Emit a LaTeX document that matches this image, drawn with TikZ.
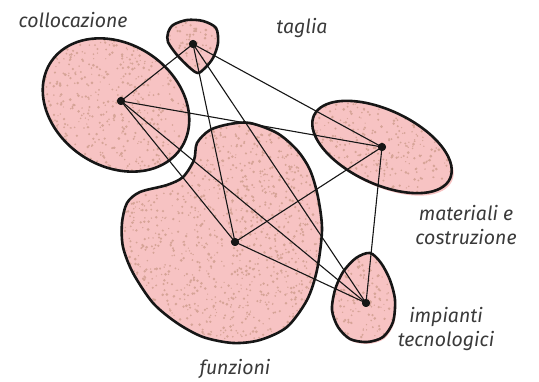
\documentclass[tikz,border=0pt]{standalone}
\usepackage{fontspec}
\setmainfont{Fira Sans}
\definecolor{blobfill}{HTML}{F7C3C3}
\definecolor{speck}{HTML}{D6A497}
\definecolor{txt}{HTML}{3A3A3A}
\definecolor{ink}{HTML}{161616}
\newcommand\specks[5]{\foreach \i in {1,...,#5}{%
  \pgfmathsetmacro\sx{#1+rnd*(#3-#1)}%
  \pgfmathsetmacro\sy{#2+rnd*(#4-#2)}%
  \pgfmathsetmacro\sr{0.6+0.9*rnd}%
  \fill[speck] (\sx,\sy) circle[radius=\sr];}}
% #1 path, #2-#5 bbox, #6 count
\newcommand\blob[6]{%
  \begin{scope}
    \clip #1;
    \fill[blobfill] (#2,#3) rectangle (#4,#5);
    \specks{#2}{#3}{#4}{#5}{#6}
  \end{scope}
  \draw[outline] #1;}
\begin{document}
\begin{tikzpicture}[x=1pt,y=-1pt,
  outline/.style={line width=2.6pt, draw=ink, line join=round},
  edge/.style={line width=1.1pt, draw=ink},
  hub/.style={circle, fill=ink, inner sep=0pt, minimum size=8pt},
  lab/.style={font=\itshape\fontsize{19.5}{24}\selectfont, text=txt, align=center}]
\useasboundingbox (0,0) rectangle (539,382);
\pgfmathsetseed{4242}
% collocazione
\blob{plot[domain=0:355, samples=72, smooth cycle] ({116+78*cos(\x)*0.834-61*sin(\x)*0.552}, {105+78*cos(\x)*0.552+61*sin(\x)*0.834})}{38}{36}{194}{176}{650}
% taglia
\blob{plot[smooth cycle] coordinates {(168,33) (173,25) (187,20) (203,21) (216,28) (218,43) (213,58) (205,68) (198,73) (190,68) (177,55) (168,42)}}{164}{16}{222}{77}{100}
% materiali
\fill[blobfill] plot[domain=0:355, samples=72, smooth cycle] ({384+75*cos(\x)*0.906-37*sin(\x)*0.423}, {149.5+75*cos(\x)*0.423+37*sin(\x)*0.906});
\blob{plot[domain=0:355, samples=72, smooth cycle] ({382+75*cos(\x)*0.906-37*sin(\x)*0.423}, {147+75*cos(\x)*0.423+37*sin(\x)*0.906})}{308}{96}{456}{198}{440}
% funzioni
\blob{plot[smooth cycle] coordinates {(250,123) (277,133) (297,150) (310,170) (318,197) (322,230) (317,270) (307,300) (287,327) (260,340) (233,343) (203,337) (177,323) (153,303) (133,273) (123,247) (122,223) (127,203) (140,192) (167,185) (183,177) (194,160) (197,143) (210,130) (230,124)}}{118}{119}{326}{347}{1400}
% impianti
\fill[blobfill] plot[smooth cycle] coordinates {(371,255) (382,265) (391,282) (396,302) (394,324) (384,339) (368,344) (351,341) (339,329) (333,312) (336,292) (344,274) (357,260)};
\blob{plot[smooth cycle] coordinates {(370,253) (381,263) (390,280) (395,300) (393,322) (383,337) (367,342) (350,339) (338,327) (332,310) (335,290) (343,272) (356,258)}}{328}{249}{399}{346}{200}
% hubs
\node[hub] (c) at (121,101) {};
\node[hub] (t) at (193,44) {};
\node[hub] (m) at (382,147) {};
\node[hub] (f) at (235,242) {};
\node[hub] (i) at (366,303) {};
\foreach \a/\b in {c/t,c/m,c/f,c/i,t/m,t/f,t/i,m/f,m/i,f/i}
  \draw[edge] (\a.center) -- (\b.center);
\node[hub] at (c) {};
\node[hub] at (t) {};
\node[hub] at (m) {};
\node[hub] at (f) {};
\node[hub] at (i) {};
% labels
\node[lab] (lc) at (73,20) {collocazione};
\node[lab] (lt) at (302,28) {taglia};
\node[lab] (lm) at (466,225) {materiali e\\costruzione};
\node[lab] (li) at (446,329) {impianti\\tecnologici};
\node[lab] (lf) at (235,369) {funzioni};
\end{tikzpicture}
\end{document}
